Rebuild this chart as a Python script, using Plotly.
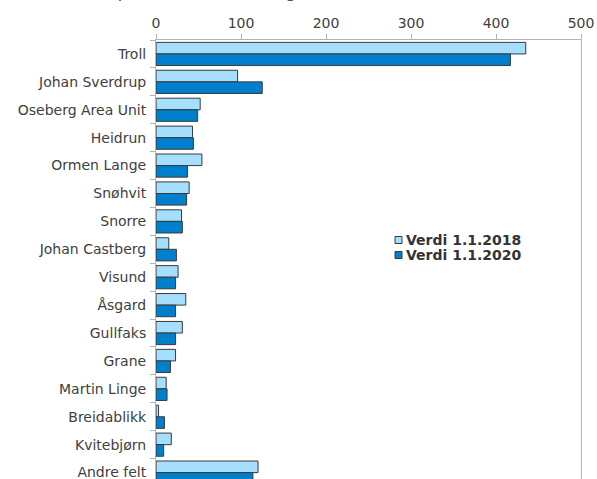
import plotly.graph_objects as go

# Reserves per field, million Sm3 o.e.
fields = ["Troll", "Johan Sverdrup", "Oseberg Area Unit", "Heidrun", "Ormen Lange",
          "Snøhvit", "Snorre", "Johan Castberg", "Visund", "Åsgard", "Gullfaks",
          "Grane", "Martin Linge", "Breidablikk", "Kvitebjørn", "Andre felt"]
verdi_2018 = [435, 96, 52, 43, 54, 39, 30, 15, 26, 35, 31, 23, 12, 3, 18, 120]
verdi_2020 = [417, 125, 49, 44, 37, 36, 31, 24, 23, 23, 23, 17, 13, 10, 9, 114]
series_names = ["Verdi 1.1.2018", "Verdi 1.1.2020"]
series_colors = ["#a6defd", "#0080cc"]

FONT = "DejaVu Sans, Verdana, sans-serif"
label_font = dict(family=FONT, size=14, color="#404040")
axis_grey = "#b4b4b4"
outline = "#3a3a3a"

W, H = 597, 479
M = dict(l=156, r=16, t=40, b=0)


def px_to_paper(x_px, y_px):
    """Convert page pixels into paper coordinates of the plot area."""
    pw = W - M["l"] - M["r"]
    ph = H - M["t"] - M["b"]
    return (x_px - M["l"]) / pw, 1 - (y_px - M["t"]) / ph


fig = go.Figure()
for name, vals, col in zip(series_names, [verdi_2018, verdi_2020], series_colors):
    fig.add_trace(go.Bar(
        y=fields, x=vals, orientation="h", name=name,
        marker=dict(color=col, line=dict(color=outline, width=1)),
        showlegend=False,
    ))

# Legend drawn as small outlined squares with bold labels
shapes, annotations = [], []
for i, (name, col) in enumerate(zip(series_names, series_colors)):
    cy = 240 + 15 * i
    x0, y0 = px_to_paper(395, cy - 3.5)
    x1, y1 = px_to_paper(402, cy + 3.5)
    shapes.append(dict(type="rect", xref="paper", yref="paper", x0=x0, x1=x1, y0=y1, y1=y0,
                       fillcolor=col, line=dict(color=outline, width=1)))
    tx, ty = px_to_paper(404, cy)
    annotations.append(dict(text="<b>" + name + "</b>", xref="paper", yref="paper", x=tx, y=ty,
                            xanchor="left", yanchor="middle", showarrow=False,
                            font=dict(family=FONT, size=14, color="#333333")))

# Chart heading sits mostly above the visible page area
hx, hy = px_to_paper(300, 2)
annotations.append(dict(
    text="Reserver per felt 1.1.2018 og 1.1.2020 i alt (mill. Sm³ o.e.)",
    xref="paper", yref="paper", x=0.33, y=hy, xanchor="center", yanchor="bottom",
    showarrow=False, borderpad=0,
    font=dict(family=FONT, size=18, color="#555555"),
))

fig.update_layout(
    width=W, height=H, margin=M,
    paper_bgcolor="white", plot_bgcolor="white",
    barmode="group", bargap=0.17, bargroupgap=0,
    font=label_font,
    xaxis=dict(side="top", range=[0, 500], tickvals=[0, 100, 200, 300, 400, 500],
               showgrid=False, zeroline=False, showline=True, linecolor=axis_grey,
               ticks="outside", ticklen=5, tickcolor=axis_grey, tickfont=label_font),
    yaxis=dict(type="category", categoryorder="array", categoryarray=fields,
               range=[15.23, -0.5], showgrid=False, showline=True, mirror=True,
               linecolor=axis_grey, ticks="outside", tickson="boundaries",
               ticklen=5, tickcolor=axis_grey, tickfont=label_font,
               ticklabelstandoff=6),
    shapes=shapes,
    annotations=annotations,
)

fig.write_html("out.html")
